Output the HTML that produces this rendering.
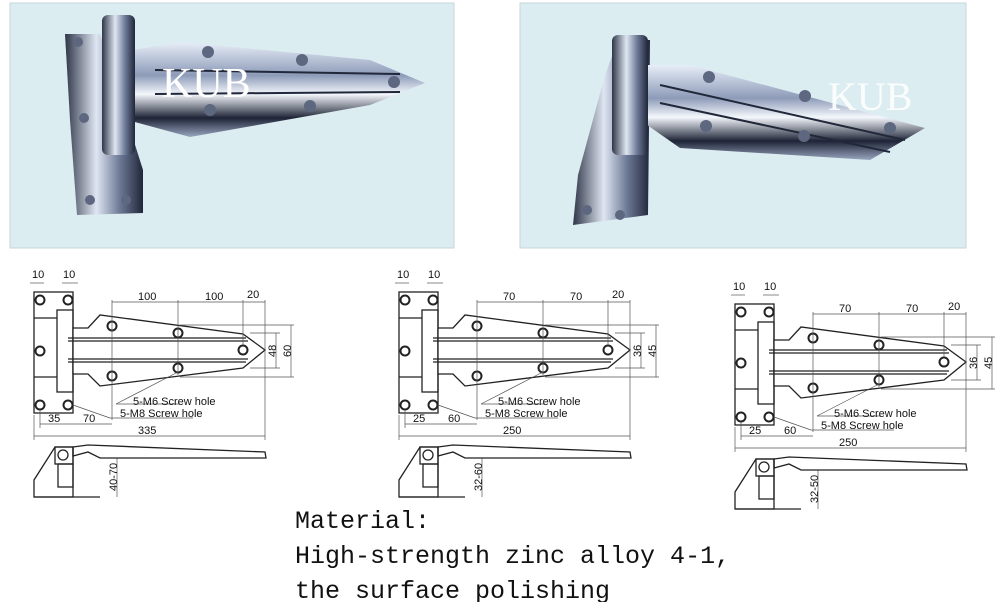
<!DOCTYPE html>
<html><head><meta charset="utf-8"><style>
html,body{margin:0;padding:0;background:#fff;width:1000px;height:602px;overflow:hidden}
svg{display:block}
.t{font-family:"Liberation Sans",sans-serif;font-size:11px;fill:#111}
.m{font-family:"Liberation Mono","DejaVu Sans Mono",monospace;font-size:25px;fill:#111}
</style></head><body>
<svg width="1000" height="602" viewBox="0 0 1000 602" xmlns="http://www.w3.org/2000/svg">
<defs>
<linearGradient id="ch" x1="0" y1="0" x2="0" y2="1">
<stop offset="0" stop-color="#e8eef8"/><stop offset=".35" stop-color="#8d9bb8"/><stop offset=".55" stop-color="#f4f7fc"/><stop offset=".8" stop-color="#1e2436"/><stop offset="1" stop-color="#9aa6c0"/></linearGradient>
<linearGradient id="cv" x1="0" y1="0" x2="1" y2="0">
<stop offset="0" stop-color="#2e3548"/><stop offset=".4" stop-color="#dfe6f2"/><stop offset=".7" stop-color="#6d7a96"/><stop offset="1" stop-color="#20263a"/></linearGradient>
</defs>
<rect x="10" y="3" width="444" height="245" fill="#dcedf1" stroke="#c6d6da"/>
<rect x="520" y="3" width="446" height="245" fill="#dcedf1" stroke="#c6d6da"/>
<g>
<polygon points="65,34 100,34 143,170 143,213 77,215 70,120" fill="url(#cv)"/>
<polygon points="120,52 180,42 370,60 425,83 370,105 190,137 120,118" fill="url(#ch)"/>
<rect x="102" y="15" width="33" height="140" rx="6" fill="url(#cv)"/>
<line x1="155" y1="70" x2="400" y2="74" stroke="#20283a" stroke-width="2"/>
<line x1="155" y1="94" x2="400" y2="92" stroke="#20283a" stroke-width="2"/>
<g fill="#5d6780"><circle cx="208" cy="52" r="6"/><circle cx="302" cy="60" r="6"/><circle cx="394" cy="82" r="6"/><circle cx="210" cy="110" r="6"/><circle cx="310" cy="106" r="6"/><circle cx="78" cy="42" r="5"/><circle cx="84" cy="118" r="5"/><circle cx="90" cy="200" r="5"/><circle cx="126" cy="200" r="5"/></g>
<text x="162" y="97" font-family="Liberation Serif,serif" font-size="42" fill="#fff">KUB</text>
</g>
<g>
<polygon points="605,75 618,40 650,40 648,215 573,225 578,175" fill="url(#cv)"/>
<polygon points="640,65 690,65 925,128 870,160 680,148 640,120" fill="url(#ch)"/>
<rect x="612" y="35" width="36" height="120" rx="6" fill="url(#cv)"/>
<line x1="660" y1="85" x2="905" y2="140" stroke="#20283a" stroke-width="2"/>
<line x1="660" y1="103" x2="890" y2="152" stroke="#20283a" stroke-width="2"/>
<g fill="#5d6780"><circle cx="709" cy="77" r="6"/><circle cx="805" cy="96" r="6"/><circle cx="890" cy="128" r="6"/><circle cx="706" cy="126" r="6"/><circle cx="804" cy="136" r="6"/><circle cx="587" cy="210" r="5"/><circle cx="620" cy="215" r="5"/></g>
<text x="828" y="110" font-family="Liberation Serif,serif" font-size="40" fill="#fff" opacity=".9">KUB</text>
</g>

<g id="d1" stroke="#222" fill="none" stroke-width="1.3">
<rect x="34" y="292" width="39" height="121"/>
<rect x="57" y="310" width="16" height="82"/>
<line x1="34" y1="318" x2="57" y2="318"/><line x1="34" y1="377" x2="57" y2="377"/>
<polygon points="73,328 88,328 100,315 243,334 265,350 243,368 100,386 88,374 73,374" fill="#fff"/>
<line x1="68" y1="338" x2="246" y2="338"/><line x1="68" y1="341" x2="248" y2="341"/>
<line x1="68" y1="359" x2="248" y2="359"/><line x1="68" y1="362" x2="246" y2="362"/>
<g stroke-width="2"><circle cx="40" cy="300" r="4.5"/><circle cx="68" cy="300" r="4.5"/><circle cx="40" cy="351" r="4.5"/><circle cx="40" cy="405" r="4.5"/><circle cx="68" cy="405" r="4.5"/>
<circle cx="112" cy="326" r="4.5"/><circle cx="178" cy="333" r="4.5"/><circle cx="178" cy="368" r="4.5"/><circle cx="112" cy="376" r="4.5"/><circle cx="243" cy="350" r="4.5"/></g>
<g stroke-width=".7" stroke="#555">
<line x1="30" y1="283" x2="44" y2="283"/><line x1="62" y1="283" x2="78" y2="283"/>
<line x1="112" y1="302" x2="265" y2="302"/><line x1="112" y1="300" x2="112" y2="420"/><line x1="178" y1="300" x2="178" y2="375"/><line x1="243" y1="300" x2="243" y2="345"/><line x1="265" y1="300" x2="265" y2="440"/>
<line x1="250" y1="333" x2="280" y2="333"/><line x1="250" y1="368" x2="280" y2="368"/><line x1="276" y1="333" x2="276" y2="368"/>
<line x1="180" y1="325" x2="294" y2="325"/><line x1="180" y1="377" x2="294" y2="377"/><line x1="291" y1="325" x2="291" y2="377"/>
<line x1="116" y1="404" x2="178" y2="372"/><line x1="116" y1="404" x2="180" y2="404"/>
<line x1="73" y1="405" x2="110" y2="418"/><line x1="110" y1="418" x2="193" y2="418"/>
<line x1="40" y1="424" x2="112" y2="424"/><line x1="40" y1="410" x2="40" y2="428"/>
<line x1="34" y1="436" x2="265" y2="436"/><line x1="34" y1="415" x2="34" y2="440"/>
<line x1="117" y1="458" x2="117" y2="497"/>
</g>
<polygon points="34,497 34,480 55,447 73,447 73,497" fill="#fff"/>
<rect x="55" y="447" width="18" height="17"/><circle cx="63" cy="455" r="5"/>
<rect x="58" y="464" width="15" height="23"/>
<polygon points="73,447 88,445 265,452 266,458 100,458 88,452 73,456"/>
<line x1="34" y1="497" x2="100" y2="497"/>
</g>
<g class="t">
<text x="32" y="278">10</text><text x="63" y="278">10</text>
<text x="138" y="300">100</text><text x="205" y="300">100</text><text x="247" y="298">20</text>
<text transform="translate(276,357) rotate(-90)">48</text><text transform="translate(291,357) rotate(-90)">60</text>
<text x="133" y="405">5-M6 Screw hole</text><text x="120" y="417">5-M8 Screw hole</text>
<text x="48" y="422">35</text><text x="83" y="422">70</text><text x="138" y="434">335</text>
<text transform="translate(117,491) rotate(-90)">40-70</text>
</g>

<use href="#d1" transform="translate(365,0)"/>
<g class="t" transform="translate(365,0)">
<text x="32" y="278">10</text><text x="63" y="278">10</text>
<text x="138" y="300">70</text><text x="205" y="300">70</text><text x="247" y="298">20</text>
<text transform="translate(276,357) rotate(-90)">36</text><text transform="translate(291,357) rotate(-90)">45</text>
<text x="133" y="405">5-M6 Screw hole</text><text x="120" y="417">5-M8 Screw hole</text>
<text x="48" y="422">25</text><text x="83" y="422">60</text><text x="138" y="434">250</text>
<text transform="translate(117,491) rotate(-90)">32-60</text>
</g>

<use href="#d1" transform="translate(701,12)"/>
<g class="t" transform="translate(701,12)">
<text x="32" y="278">10</text><text x="63" y="278">10</text>
<text x="138" y="300">70</text><text x="205" y="300">70</text><text x="247" y="298">20</text>
<text transform="translate(276,357) rotate(-90)">36</text><text transform="translate(291,357) rotate(-90)">45</text>
<text x="133" y="405">5-M6 Screw hole</text><text x="120" y="417">5-M8 Screw hole</text>
<text x="48" y="422">25</text><text x="83" y="422">60</text><text x="138" y="434">250</text>
<text transform="translate(117,491) rotate(-90)">32-50</text>
</g>

<text class="m" x="295" y="528">Material:</text>
<text class="m" x="295" y="563">High-strength zinc alloy 4-1,</text>
<text class="m" x="295" y="598">the surface polishing</text>
</svg>
</body></html>
